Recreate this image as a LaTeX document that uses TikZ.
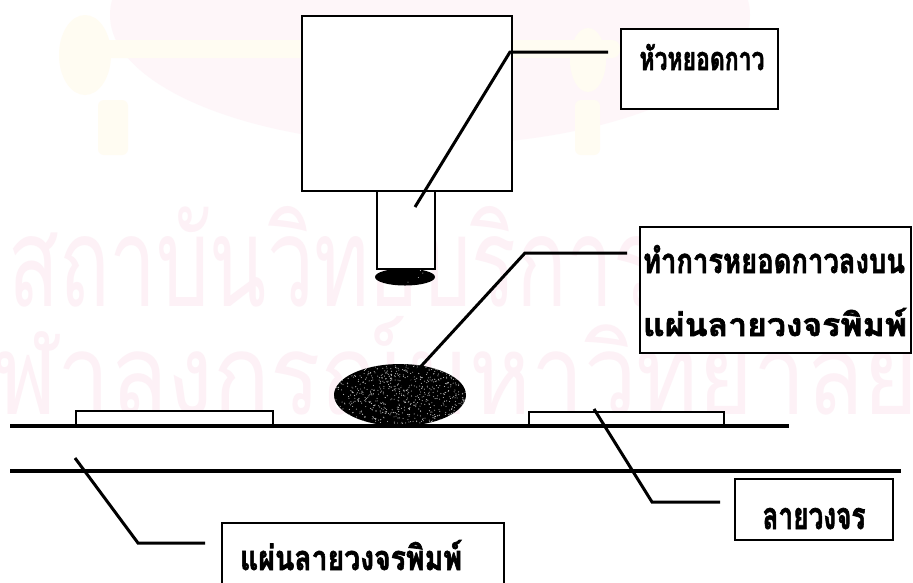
\documentclass[tikz,border=0pt]{standalone}
\usepackage{fontspec}
\newfontfamily\thaifont[Script=Thai, BoldFeatures={FakeBold=2}]{Loma}
\usetikzlibrary{shapes.geometric}
\definecolor{wmpink}{RGB}{253,241,246}
\definecolor{wmrose}{RGB}{254,246,249}
\definecolor{wmgold}{RGB}{255,252,242}
\tikzset{
  part/.style={draw=black, line width=1.9pt, fill=white, inner sep=0pt},
  leader/.style={line width=3pt, line join=miter},
  board/.style={line width=3.2pt},
  labelbox/.style={draw=black, line width=2pt, fill=white, inner sep=0pt},
  thaitext/.style={font=\thaifont\bfseries, inner sep=0pt, anchor=base},
  watermark/.style={text=wmpink, inner sep=0pt, anchor=base west, font=\thaifont},
  speckle/.style={path picture={
      \foreach \k in {1,...,#1}{
        \pgfmathsetmacro\rx{rand*70}
        \pgfmathsetmacro\ry{rand*34}
        \fill[black!25] ([shift={(\rx pt,\ry pt)}]path picture bounding box.center) circle (0.55pt);
      }}},
  glue/.style={ellipse, fill=black, inner sep=0pt}
}
\begin{document}
\begin{tikzpicture}[x=1pt,y=-1pt]
\useasboundingbox (0,0) rectangle (913,582);
\clip (0,0) rectangle (913,582);
\fill[white] (0,0) rectangle (913,582);

% faint seal in the background
\fill[wmrose] (430,15) ellipse [x radius=320pt, y radius=130pt];
\fill[wmgold, rounded corners=8pt] (95,40) rectangle (620,58);
\fill[wmgold] (85,55) ellipse [x radius=26pt, y radius=40pt];
\fill[wmgold, rounded corners=6pt] (98,100) rectangle (128,155);
\fill[wmgold] (588,60) ellipse [x radius=18pt, y radius=32pt];
\fill[wmgold, rounded corners=6pt] (575,100) rectangle (600,155);

% faint library text behind the drawing
\node[watermark] (wm1) at (8,306) {\resizebox{650pt}{100pt}{สถาบันวิทยบริการ}};
\node[watermark] (wm2) at (-62,414) {\resizebox{980pt}{98pt}{จุฬาลงกรณ์มหาวิทยาลัย}};

% dispensing head with its nozzle
\node[part, minimum width=58pt, minimum height=78pt, anchor=north west] (nozzle) at (376,190) {};
\node[part, minimum width=210pt, minimum height=175pt, anchor=north west] (head) at (301,15) {};
\pgfmathsetseed{11}
\node[glue, minimum width=60pt, minimum height=17pt, speckle=60] (dot) at (405,277) {};

% glue drop on the board
\pgfmathsetseed{5}
\node[glue, minimum width=132pt, minimum height=62pt, speckle=900] (drop) at (400,395) {};

% printed circuit board with two tracks
\node[part, minimum width=197pt, minimum height=14pt, anchor=south west] (padL) at (75,426) {};
\node[part, minimum width=195pt, minimum height=14pt, anchor=south west] (padR) at (528,427) {};
\coordinate (b1l) at (10,426);
\coordinate (b1r) at (789,426);
\coordinate (b2l) at (10,471);
\coordinate (b2r) at (901,471);
\draw[board] (b1l) -- (b1r);
\draw[board] (b2l) -- (b2r);

% label: dispensing head
\node[labelbox, minimum width=157pt, minimum height=80pt, anchor=north west] (lab1) at (620,28) {};
\node[thaitext] (t1) at (702,70) {\resizebox{125pt}{26pt}{หัวหยอดกาว}};
\coordinate (l1a) at (415,207);
\coordinate (l1b) at (510,52);
\coordinate (l1c) at (608,52);
\draw[leader] (l1a) -- (l1b) -- (l1c);

% label: dispensing glue onto the board
\node[labelbox, minimum width=271pt, minimum height=126pt, anchor=north west] (lab2) at (639,226) {};
\node[thaitext] (t2a) at (774,273) {\resizebox{262pt}{28pt}{ทำการหยอดกาวลงบน}};
\node[thaitext] (t2b) at (775,336) {\resizebox{264pt}{28pt}{แผ่นลายวงจรพิมพ์}};
\coordinate (l2a) at (402,387);
\coordinate (l2b) at (525,253);
\coordinate (l2c) at (627,253);
\draw[leader] (l2a) -- (l2b) -- (l2c);

% label: printed circuit board
\node[labelbox, minimum width=282pt, minimum height=90pt, anchor=north west] (lab3) at (221,522) {};
\node[thaitext] (t3) at (351,570) {\resizebox{222pt}{30pt}{แผ่นลายวงจรพิมพ์}};
\coordinate (l3a) at (75,458);
\coordinate (l3b) at (138,543);
\coordinate (l3c) at (205,543);
\draw[leader] (l3a) -- (l3b) -- (l3c);

% label: circuit track
\node[labelbox, minimum width=158pt, minimum height=61pt, anchor=north west] (lab4) at (734,478) {};
\node[thaitext] (t4) at (814,529) {\resizebox{103pt}{21pt}{ลายวงจร}};
\coordinate (l4a) at (594,409);
\coordinate (l4b) at (652,502);
\coordinate (l4c) at (720,502);
\draw[leader] (l4a) -- (l4b) -- (l4c);
\end{tikzpicture}
\end{document}
